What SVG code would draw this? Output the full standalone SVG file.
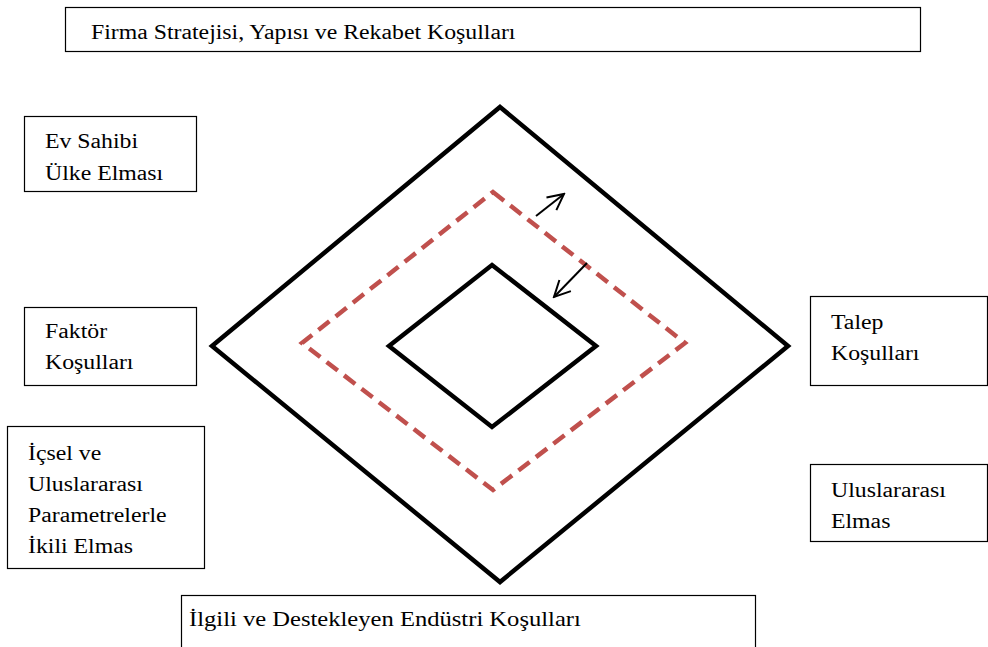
<svg xmlns="http://www.w3.org/2000/svg" width="988" height="647" viewBox="0 0 988 647">
<defs>
<marker id="openb" viewBox="0 0 20 20" refX="18" refY="10" markerWidth="20" markerHeight="20" markerUnits="userSpaceOnUse" orient="auto">
<path d="M2,2 L18,10 L2,18" fill="none" stroke="#000" stroke-width="2"/>
</marker>
</defs>
<style>
.box{fill:#fff;stroke:#000;stroke-width:1.2}
text{font-family:'Liberation Serif','Times New Roman',serif;font-size:20.5px;fill:#000}
.dia{fill:none;stroke:#000;stroke-width:4.5;stroke-linejoin:miter}
.dash{fill:none;stroke:#C0504D;stroke-width:4.5;stroke-dasharray:14 8}
.arr{stroke:#000;stroke-width:2;fill:none}
</style>
<rect width="988" height="647" fill="#fff"/>
<g id="outer-diamond"><polygon class="dia" points="500,107 788,346 500,582 212,346"/></g>
<g id="dashed-diamond"><polygon class="dash" points="493,192 685,343 493,490 302,343"/></g>
<g id="inner-diamond"><polygon class="dia" points="492,265 596,346 492,427 389,346"/></g>
<g id="connectors">
<line class="arr" x1="536" y1="216" x2="564" y2="194" marker-end="url(#openb)"/>
<line class="arr" x1="587" y1="263" x2="554" y2="297" marker-end="url(#openb)"/>
</g>
<g id="firma"><rect class="box" x="65.5" y="7.5" width="855" height="44"/><text transform="translate(91,39) scale(1.16,1)">Firma Stratejisi, Yapısı ve Rekabet Koşulları</text></g>
<g id="ev-sahibi"><rect class="box" x="24.5" y="116.5" width="172" height="75"/><text transform="translate(45,148) scale(1.16,1)">Ev Sahibi</text><text transform="translate(45,180) scale(1.16,1)">Ülke Elması</text></g>
<g id="faktor"><rect class="box" x="24.5" y="307.5" width="172" height="78"/><text transform="translate(45,338) scale(1.16,1)">Faktör</text><text transform="translate(45,369) scale(1.16,1)">Koşulları</text></g>
<g id="icsel"><rect class="box" x="7.5" y="426.5" width="197" height="142"/><text transform="translate(28,460) scale(1.16,1)">İçsel ve</text><text transform="translate(28,491) scale(1.16,1)">Uluslararası</text><text transform="translate(28,522) scale(1.16,1)">Parametrelerle</text><text transform="translate(28,553) scale(1.16,1)">İkili Elmas</text></g>
<g id="talep"><rect class="box" x="810.5" y="296.5" width="177" height="89"/><text transform="translate(831,329) scale(1.16,1)">Talep</text><text transform="translate(831,360) scale(1.16,1)">Koşulları</text></g>
<g id="uluslararasi"><rect class="box" x="810.5" y="464.5" width="177" height="77"/><text transform="translate(831,497) scale(1.16,1)">Uluslararası</text><text transform="translate(831,528) scale(1.16,1)">Elmas</text></g>
<g id="ilgili"><rect class="box" x="181.5" y="595.5" width="574" height="60"/><text transform="translate(189,626) scale(1.2,1)">İlgili ve Destekleyen Endüstri Koşulları</text></g>
</svg>
